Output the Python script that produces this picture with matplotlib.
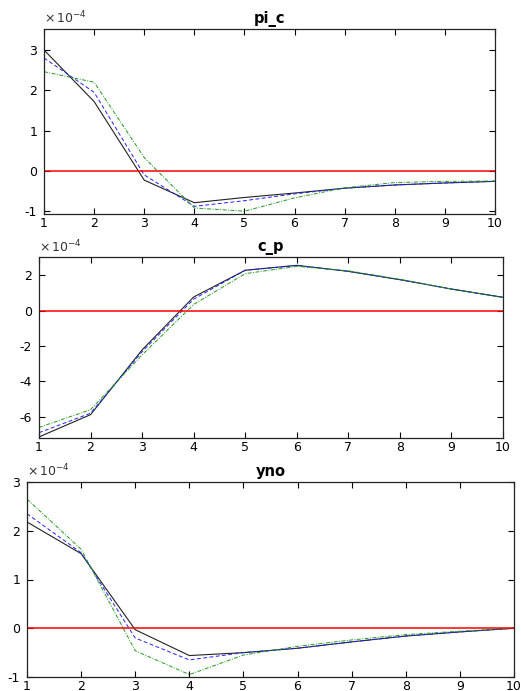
import numpy as np
import matplotlib
matplotlib.use("Agg")
import matplotlib.pyplot as plt

plt.rcParams["font.family"] = ["DejaVu Sans"]
plt.rcParams["axes.unicode_minus"] = False

# values in units of 1e-4
periods = np.arange(1, 11)

pi_c_black = [3.00, 1.72, -0.23, -0.79, -0.66, -0.55, -0.43, -0.35, -0.30, -0.26]
pi_c_blue = [2.80, 1.95, -0.10, -0.88, -0.74, -0.57, -0.43, -0.35, -0.30, -0.26]
pi_c_green = [2.46, 2.20, 0.33, -0.92, -1.00, -0.67, -0.42, -0.29, -0.26, -0.25]

c_p_black = [-7.14, -5.88, -2.22, 0.77, 2.28, 2.56, 2.22, 1.75, 1.22, 0.75]
c_p_blue = [-6.90, -5.80, -2.32, 0.65, 2.28, 2.55, 2.22, 1.75, 1.22, 0.75]
c_p_green = [-6.60, -5.60, -2.50, 0.35, 2.09, 2.50, 2.25, 1.77, 1.22, 0.75]

yno_black = [2.18, 1.53, -0.03, -0.56, -0.50, -0.41, -0.28, -0.16, -0.075, 0.0]
yno_blue = [2.35, 1.55, -0.20, -0.65, -0.50, -0.41, -0.28, -0.16, -0.075, 0.0]
yno_green = [2.65, 1.62, -0.46, -0.95, -0.55, -0.37, -0.24, -0.13, -0.06, 0.0]

panels = [
    ("pi_c", pi_c_black, pi_c_blue, pi_c_green, (-1.07, 3.52), [-1, 0, 1, 2, 3]),
    ("c_p", c_p_black, c_p_blue, c_p_green, (-7.2, 3.03), [-6, -4, -2, 0, 2]),
    ("yno", yno_black, yno_blue, yno_green, (-1.0, 3.0), [-1, 0, 1, 2, 3]),
]

# axes boxes in pixels: left, right, top, bottom
boxes = [(44, 495, 29, 214), (39, 503, 257, 438), (27, 514, 482, 677)]
W, H = 521, 691

fig = plt.figure(figsize=(W / 100, H / 100), dpi=100)
for (name, k, b, g, ylim, yt), (l, r, t, bt) in zip(panels, boxes):
    ax = fig.add_axes([l / W, 1 - bt / H, (r - l) / W, (bt - t) / H])
    ax.plot(periods, k, color="#222222", lw=0.8)
    ax.plot(periods, b, color="#2020ff", lw=0.7, ls=(0, (4, 2.5)))
    ax.plot(periods, g, color="#1f9a1f", lw=0.7, ls=(0, (4, 1.5, 1, 1.5)))
    ax.axhline(0, color="red", lw=1.1)
    ax.set_xlim(1, 10)
    ax.set_ylim(*ylim)
    ax.set_xticks(periods)
    ax.set_yticks(yt)
    ax.tick_params(direction="in", top=True, right=True, labelsize=9,
                   length=4, width=0.8)
    ax.tick_params(axis="x", pad=2)
    ax.tick_params(axis="y", pad=5)
    for s in ax.spines.values():
        s.set_linewidth(0.9)
        s.set_color("#222222")
    ax.set_title(name, fontsize=10.5, fontweight="bold", pad=4)
    ax.text(0.0, 1.012, r"$\times\,10^{-4}$", transform=ax.transAxes,
            fontsize=9, ha="left", va="bottom", color="#333333")

fig.savefig("out.png", dpi=100)
